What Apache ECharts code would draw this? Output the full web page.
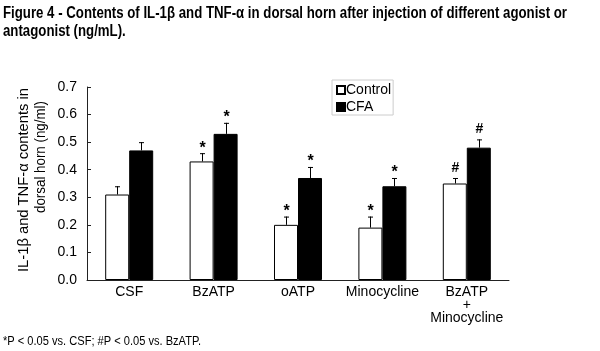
<!DOCTYPE html>
<html>
<head>
<meta charset="utf-8">
<script src="https://cdn.jsdelivr.net/npm/echarts@6/dist/echarts.min.js"></script>
<style>
  html, body {margin: 0; padding: 0; background: #fff;}
  #chart {width: 600px; height: 351px;}
</style>
</head>
<body>
<div id="chart"></div>
<script>
// values (ng/mL)
const categories = ['CSF', 'BzATP', 'oATP', 'Minocycline', 'BzATP\n+\nMinocycline'];
const controlMean = [0.31, 0.43, 0.20, 0.19, 0.35];
const controlErr = [0.03, 0.03, 0.03, 0.04, 0.02];
const controlSig = ['', '*', '*', '*', '#'];
const cfaMean = [0.47, 0.53, 0.37, 0.34, 0.48];
const cfaErr = [0.03, 0.04, 0.04, 0.03, 0.03];
const cfaSig = ['', '*', '*', '*', '#'];
const yTicks = [0, 0.1, 0.2, 0.3, 0.4, 0.5, 0.6, 0.7];

const titleLines = [
  'Figure 4 - Contents of IL-1β and TNF-α in dorsal horn after injection of different agonist or',
  'antagonist (ng/mL).'
];
const yNameLines = ['IL-1β and TNF-α contents in', 'dorsal horn (ng/ml)'];
const footnote = '*P < 0.05 vs. CSF; #P < 0.05 vs. BzATP.';

const sans = "'Liberation Sans', Arial, sans-serif";
const BAR_W = 24;

// the original uses a condensed face; squeeze Liberation Sans to the same width
const ctx = document.createElement('canvas').getContext('2d');
const textWidth = (txt, font) => { ctx.font = font; return ctx.measureText(txt).width; };
const titleScale = 564 / textWidth(titleLines[0], "bold 16px 'Liberation Sans'");
const noteScale = 198 / textWidth(footnote, "12px 'Liberation Sans'");
const name1Scale = 184 / textWidth(yNameLines[0], "15px 'Liberation Sans'");
const name2Scale = 112 / textWidth(yNameLines[1], "15px 'Liberation Sans'");

const chart = echarts.init(document.getElementById('chart'));

// error bar + significance mark drawn on top of each bar
const errorBars = (means, errs, sigs, side) => ({
  type: 'custom',
  z: 5,
  silent: true,
  data: means.map((m, i) => [i, m, errs[i]]),
  renderItem(params, api) {
    const i = api.value(0);
    const top = api.coord([i, api.value(1)]);
    const hi = api.coord([i, api.value(1) + api.value(2)]);
    const x = Math.round(top[0] + side * BAR_W / 2) + 0.5;
    const sig = sigs[i];
    const children = [
      {type: 'line', shape: {x1: x, y1: top[1], x2: x, y2: hi[1]}, style: {stroke: '#000', lineWidth: 1}},
      {type: 'line', shape: {x1: x - 2.5, y1: hi[1] + 0.5, x2: x + 2.5, y2: hi[1] + 0.5}, style: {stroke: '#000', lineWidth: 1}}
    ];
    if (sig) {
      children.push({
        type: 'text',
        style: {
          text: sig, x: x, y: hi[1] - (sig === '*' ? 5 : 10),
          align: 'center', verticalAlign: 'middle',
          fontSize: sig === '*' ? 16 : 14, fontWeight: 'bold', fontFamily: sans, fill: '#000'
        }
      });
    }
    return {type: 'group', children};
  }
});

chart.setOption({
  animation: false,
  legend: {
    data: ['Control', 'CFA'],
    orient: 'vertical',
    left: 332, top: 80,
    icon: 'rect',
    itemWidth: 8, itemHeight: 8,
    itemGap: 3,
    padding: [3, 2, 1, 4],
    borderColor: '#ccc', borderWidth: 1,
    textStyle: {fontFamily: sans, fontSize: 14, color: '#000', padding: [0, 0, 0, -4]}
  },
  grid: {left: 87, right: 91, top: 87, bottom: 71},
  xAxis: {
    type: 'category',
    data: categories,
    axisLine: {lineStyle: {color: '#222', width: 1}},
    axisTick: {inside: true, length: 4, lineStyle: {color: '#222'}},
    axisLabel: {interval: 0, fontFamily: sans, fontSize: 14, color: '#000', margin: 6, lineHeight: 13}
  },
  yAxis: {
    type: 'value',
    min: yTicks[0], max: yTicks[yTicks.length - 1], interval: 0.1,
    splitLine: {show: false},
    axisLine: {show: true, lineStyle: {color: '#222', width: 1}},
    axisTick: {show: true, inside: true, length: 4, lineStyle: {color: '#222'}},
    axisLabel: {fontFamily: sans, fontSize: 14, color: '#000', margin: 10, formatter: v => v.toFixed(1)}
  },
  graphic: [
    {type: 'text', x: 3, y: 14, scaleX: titleScale,
     style: {text: titleLines[0], verticalAlign: 'middle', fontFamily: sans, fontWeight: 'bold', fontSize: 16, fill: '#000'}},
    {type: 'text', x: 3, y: 32, scaleX: titleScale,
     style: {text: titleLines[1], verticalAlign: 'middle', fontFamily: sans, fontWeight: 'bold', fontSize: 16, fill: '#000'}},
    {type: 'text', x: 24, y: 180, rotation: Math.PI / 2, scaleX: name1Scale,
     style: {text: yNameLines[0], align: 'center', verticalAlign: 'middle', fontFamily: sans, fontSize: 15, fill: '#000'}},
    {type: 'text', x: 41, y: 157, rotation: Math.PI / 2, scaleX: name2Scale,
     style: {text: yNameLines[1], align: 'center', verticalAlign: 'middle', fontFamily: sans, fontSize: 15, fill: '#000'}},
    {type: 'text', x: 3, y: 342, scaleX: noteScale,
     style: {text: footnote, verticalAlign: 'middle', fontFamily: sans, fontSize: 12, fill: '#000'}}
  ],
  series: [
    {
      name: 'Control', type: 'bar', barWidth: BAR_W, barGap: '0%',
      data: controlMean,
      itemStyle: {color: '#fff', borderColor: '#000', borderWidth: 1}
    },
    {
      name: 'CFA', type: 'bar', barWidth: BAR_W, barGap: '0%',
      data: cfaMean,
      itemStyle: {color: '#000', borderColor: '#000', borderWidth: 1}
    },
    errorBars(controlMean, controlErr, controlSig, -1),
    errorBars(cfaMean, cfaErr, cfaSig, 1)
  ]
});
</script>
</body>
</html>
